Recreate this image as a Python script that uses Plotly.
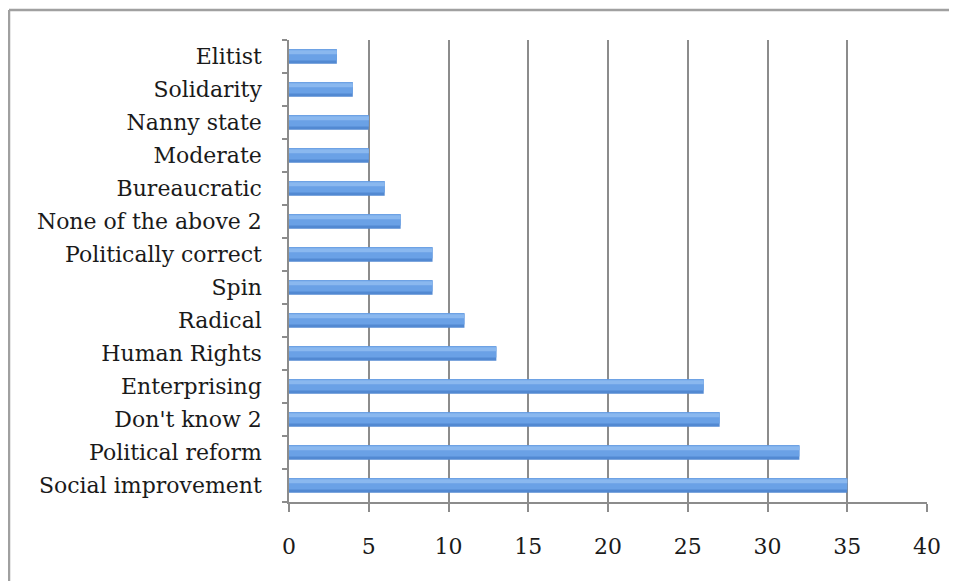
import plotly.graph_objects as go

categories = ["Social improvement", "Political reform", "Don't know 2", "Enterprising",
              "Human Rights", "Radical", "Spin", "Politically correct",
              "None of the above 2", "Bureaucratic", "Moderate", "Nanny state",
              "Solidarity", "Elitist"]
values = [35, 32, 27, 26, 13, 11, 9, 9, 7, 6, 5, 5, 4, 3]
x_ticks = [0, 5, 10, 15, 20, 25, 30, 35, 40]

# page body adds an 8px offset, so the figure is sized/placed to compensate
W, H = 949, 573
L, R, T, B = 281, 30, 32, 79

fig = go.Figure()
# base bar (darker lower edge) plus lighter layers to mimic the glossy gradient
fig.add_trace(go.Bar(x=values, y=categories, orientation="h",
                     marker=dict(color="#5289d2", line=dict(width=0)),
                     width=0.44, offset=-0.22, hoverinfo="x+y"))
fig.add_trace(go.Bar(x=values, y=categories, orientation="h",
                     marker=dict(color="#6aa1e6", line=dict(width=0)),
                     width=0.34, offset=-0.12, hoverinfo="skip"))
fig.add_trace(go.Bar(x=values, y=categories, orientation="h",
                     marker=dict(color="#8ab8ef", line=dict(width=0)),
                     width=0.12, offset=0.07, hoverinfo="skip"))

font = dict(family="DejaVu Serif", size=22, color="#1a1a1a")
fig.update_layout(
    width=W, height=H,
    margin=dict(l=L, r=R, t=T, b=B),
    paper_bgcolor="white", plot_bgcolor="white",
    showlegend=False, barmode="overlay",
    font=font,
    xaxis=dict(range=[0, 40], tickvals=x_ticks, showgrid=True, gridcolor="#8c8c8c",
               gridwidth=1.5, showline=True, linecolor="#8c8c8c", linewidth=1.5,
               ticks="outside", ticklen=8, tickcolor="#8c8c8c", tickwidth=1.5,
               ticklabelstandoff=16,
               zeroline=False, tickfont=font, fixedrange=True),
    yaxis=dict(categoryorder="array", categoryarray=categories, showgrid=False,
               showline=True, linecolor="#8c8c8c", linewidth=1.5,
               ticks="outside", ticklen=5, tickcolor="#8c8c8c", tickwidth=1.5,
               tickson="boundaries", ticklabelstandoff=21, tickfont=font,
               range=[-0.5, 13.5], fixedrange=True),
)

# outer frame (top and left edges)
pw, ph = W - L - R, H - T - B
x0 = (1 - L) / pw
y1 = (H - 2 - B) / ph
fig.add_shape(type="line", xref="paper", yref="paper", x0=x0, x1=(W + 10 - L) / pw,
              y0=y1, y1=y1, line=dict(color="#a0a0a0", width=2.5))
fig.add_shape(type="line", xref="paper", yref="paper", x0=x0, x1=x0,
              y0=y1, y1=-(B + 10) / ph, line=dict(color="#a0a0a0", width=2.5))

fig.write_html("out.html")
